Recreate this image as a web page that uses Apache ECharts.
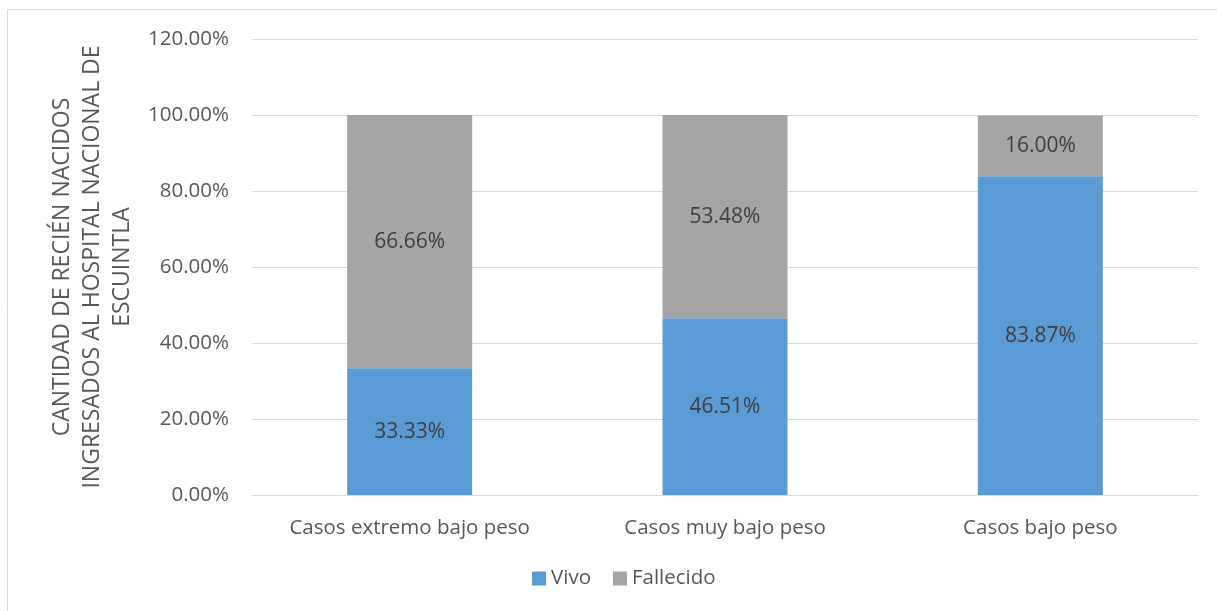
<!DOCTYPE html>
<html><head><meta charset="utf-8">
<script src="https://cdn.jsdelivr.net/npm/echarts@6/dist/echarts.min.js"></script>
<style>html,body{margin:0;padding:0;background:#fff}#c{width:1217px;height:611px}</style>
</head><body><div id="c"></div>
<script>
const categories = ['Casos extremo bajo peso', 'Casos muy bajo peso', 'Casos bajo peso'];
const vivo = [33.33, 46.51, 83.87];
const fallecido = [66.66, 53.48, 16.00];
const yTicks = { min: 0, max: 120, interval: 20 };
const yName = 'CANTIDAD DE RECIÉN NACIDOS\nINGRESADOS AL HOSPITAL NACIONAL DE\nESCUINTLA';
const FONT = 'Open Sans';
const chart = echarts.init(document.getElementById('c'));
chart.setOption({
  animation: false,
  textStyle: { fontFamily: FONT },
  graphic: [{ type: 'rect', shape: { x: 7.5, y: 9.5, width: 1230, height: 640 }, style: { fill: 'none', stroke: '#d9d9d9', lineWidth: 1 }, silent: true }],
  grid: { left: 252, right: 19, top: 39, bottom: 116, outerBoundsMode: 'none' },
  legend: {
    bottom: 17, left: 527, itemWidth: 14, itemHeight: 14, itemGap: 22, icon: 'rect',
    textStyle: { fontFamily: FONT, fontSize: 20.5, color: '#595959' },
    data: ['Vivo', 'Fallecido']
  },
  xAxis: {
    type: 'category', data: categories,
    axisLine: { lineStyle: { color: '#d9d9d9', width: 1 } },
    axisTick: { show: false },
    axisLabel: { fontFamily: FONT, fontSize: 20.5, color: '#595959', margin: 23 }
  },
  yAxis: {
    type: 'value', min: yTicks.min, max: yTicks.max, interval: yTicks.interval,
    name: yName, nameLocation: 'middle', nameRotate: 90, nameGap: 113,
    nameTextStyle: { fontFamily: FONT, fontSize: 23, color: '#595959', lineHeight: 30, align: 'center', padding: [0, 0, 0, 0] },
    axisLine: { show: false }, axisTick: { show: false },
    splitLine: { lineStyle: { color: '#d9d9d9', width: 1 } },
    axisLabel: { fontFamily: FONT, fontSize: 20.5, color: '#595959', margin: 23, formatter: v => v.toFixed(2) + '%' }
  },
  series: [
    { name: 'Vivo', type: 'bar', stack: 's', data: vivo, barWidth: 125,
      itemStyle: { color: '#5B9BD5' },
      label: { show: true, position: 'inside', fontFamily: FONT, fontSize: 21, color: '#404040', formatter: p => p.value.toFixed(2) + '%' } },
    { name: 'Fallecido', type: 'bar', stack: 's', data: fallecido, barWidth: 125,
      itemStyle: { color: '#A5A5A5' },
      label: { show: true, position: 'inside', fontFamily: FONT, fontSize: 21, color: '#404040', formatter: p => p.value.toFixed(2) + '%' } }
  ]
});
</script></body></html>
